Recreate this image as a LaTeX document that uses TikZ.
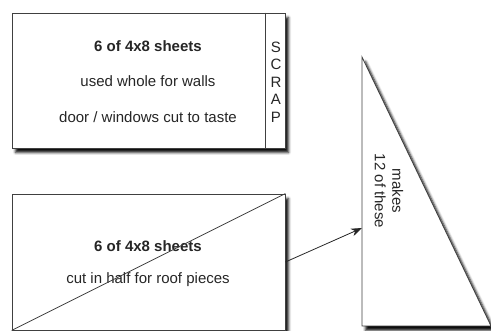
\documentclass[tikz,border=0pt]{standalone}
\usepackage{fontspec}
\setmainfont{Liberation Sans}
\usetikzlibrary{arrows.meta,shadows.blur}

\begin{document}
\begin{tikzpicture}[x=1pt, y=-1pt, >={Stealth[length=11pt,width=8pt]}, line width=0.8pt,
    sheet/.style={draw=black!75, fill=white, blur shadow={shadow xshift=3.5pt, shadow yshift=-4.5pt, shadow blur radius=2.5pt, shadow opacity=95}},
    txt/.style={font=\fontsize{15}{17.5}\selectfont, text=black!85}]
    \useasboundingbox (0,0) rectangle (491,331);

    % Sheets {walls, roof, triangle}
    \node [sheet, minimum width=273pt, minimum height=135pt] (walls) at (148.5,80.5) {};
    \node [sheet, minimum width=273pt, minimum height=136pt] (roof)  at (148.5,262)  {};
    \filldraw [sheet] (362,57) coordinate (apex) -- (362,326) coordinate (corner)
        -- (491,326) coordinate (foot) -- cycle;

    % Texts
    \node [txt] (wallshead) at (148,46)  {\bfseries 6 of 4x8 sheets};
    \node [txt] (wallsuse)  at (148,81)  {used whole for walls};
    \node [txt] (wallscut)  at (148,117) {door / windows cut to taste};
    \node [txt, align=center, inner sep=0pt] (scrap) at (276,82) {S\\C\\R\\A\\P};
    \node [txt] (roofhead)  at (148,246) {\bfseries 6 of 4x8 sheets};
    \node [txt] (roofuse)   at (148,280) {cut in half for roof pieces};
    \node [txt, rotate=-90, align=center] (makes) at (389,191) {makes\\12 of these};

    % Paths
    \coordinate (target) at (362,228);
    \draw [black!75] ([xshift=-20pt]walls.north east) -- ([xshift=-20pt]walls.south east);
    \draw [black!75] (roof.south west) -- (roof.north east);
    \draw [->, black!85] (roof.east) -- (target);

\end{tikzpicture}
\end{document}
